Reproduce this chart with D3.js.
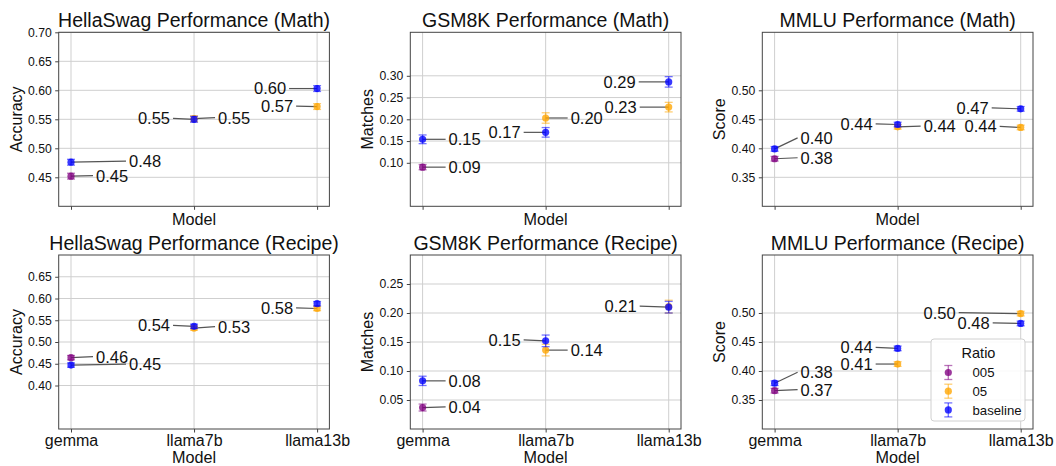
<!DOCTYPE html>
<html>
<head>
<meta charset="utf-8">
<script src="https://cdn.jsdelivr.net/npm/d3@7"></script>
<style>
	body { margin: 0; background: #fff; }
	svg { font-family: 'Liberation Sans', Arial, Helvetica, sans-serif; }
</style>
</head>
<body>
<svg id="chart" width="1056" height="466"></svg>
<script>
const models = ['gemma', 'llama7b', 'llama13b']
const ratios = ['005', '05', 'baseline']

// rows: [model, ratio, mean, err]
const hellaswagMath = [
	['gemma', '005', 0.452, 0.005], ['gemma', 'baseline', 0.476, 0.005],
	['llama7b', '05', 0.551, 0.005], ['llama7b', 'baseline', 0.550, 0.005],
	['llama13b', '05', 0.572, 0.005], ['llama13b', 'baseline', 0.603, 0.005]
]
const gsm8kMath = [
	['gemma', '005', 0.090, 0.006], ['gemma', 'baseline', 0.154, 0.010],
	['llama7b', '05', 0.203, 0.012], ['llama7b', 'baseline', 0.170, 0.011],
	['llama13b', '05', 0.228, 0.011], ['llama13b', 'baseline', 0.286, 0.012]
]
const mmluMath = [
	['gemma', '005', 0.382, 0.004], ['gemma', 'baseline', 0.399, 0.004],
	['llama7b', '05', 0.437, 0.004], ['llama7b', 'baseline', 0.441, 0.004],
	['llama13b', '05', 0.436, 0.004], ['llama13b', 'baseline', 0.468, 0.004]
]
const hellaswagRecipe = [
	['gemma', '005', 0.464, 0.005], ['gemma', 'baseline', 0.447, 0.005],
	['llama7b', '05', 0.532, 0.005], ['llama7b', 'baseline', 0.536, 0.005],
	['llama13b', '05', 0.577, 0.005], ['llama13b', 'baseline', 0.588, 0.005]
]
const gsm8kRecipe = [
	['gemma', '005', 0.037, 0.006], ['gemma', 'baseline', 0.083, 0.008],
	['llama7b', '05', 0.136, 0.010], ['llama7b', 'baseline', 0.152, 0.010],
	['llama13b', '05', 0.211, 0.011], ['llama13b', 'baseline', 0.210, 0.010]
]
const mmluRecipe = [
	['gemma', '005', 0.366, 0.004], ['gemma', 'baseline', 0.379, 0.004],
	['llama7b', '05', 0.412, 0.004], ['llama7b', 'baseline', 0.439, 0.004],
	['llama13b', '05', 0.499, 0.004], ['llama13b', 'baseline', 0.482, 0.004]
]

// y tick labels
const hellaswagMathTicks = [0.45, 0.50, 0.55, 0.60, 0.65, 0.70]
const gsm8kMathTicks = [0.10, 0.15, 0.20, 0.25, 0.30]
const mmluTicks = [0.35, 0.40, 0.45, 0.50]
const hellaswagRecipeTicks = [0.40, 0.45, 0.50, 0.55, 0.60, 0.65]
const gsm8kRecipeTicks = [0.05, 0.10, 0.15, 0.20, 0.25]

// annotation placement: [model, ratio, dx, dy] in px from the point
const hellaswagMathLabels = [
	['gemma', 'baseline', 58, -1], ['gemma', '005', 25, -0.5],
	['llama7b', 'baseline', -24, -1], ['llama7b', '05', 24, -1],
	['llama13b', 'baseline', -31, 0], ['llama13b', '05', -24, -0.5]
]
const gsm8kMathLabels = [
	['gemma', 'baseline', 26, 0], ['gemma', '005', 26, 0],
	['llama7b', 'baseline', -25, 0], ['llama7b', '05', 25, 0],
	['llama13b', 'baseline', -33, 0], ['llama13b', '05', -32, 0]
]
const mmluMathLabels = [
	['gemma', 'baseline', 26, -11], ['gemma', '005', 26, -1],
	['llama7b', 'baseline', -25, -0.7], ['llama7b', '05', 26, -0.7],
	['llama13b', 'baseline', -32, -1], ['llama13b', '05', -24, -1]
]
const hellaswagRecipeLabels = [
	['gemma', '005', 25, -1], ['gemma', 'baseline', 58, -1],
	['llama7b', 'baseline', -24, -1], ['llama7b', '05', 24, -1.5],
	['llama13b', '05', -24, -0.7]
]
const gsm8kRecipeLabels = [
	['gemma', 'baseline', 26, 0], ['gemma', '005', 26, -0.7],
	['llama7b', 'baseline', -25, -1], ['llama7b', '05', 25, 0],
	['llama13b', 'baseline', -32, -1]
]
const mmluRecipeLabels = [
	['gemma', 'baseline', 26, -11], ['gemma', '005', 26, -1],
	['llama7b', 'baseline', -25, -1], ['llama7b', '05', -25, 0],
	['llama13b', '05', -65, -1], ['llama13b', 'baseline', -31, -0.5]
]

const colors = {'005': '#800080', '05': '#FFA500', 'baseline': '#0000FF'}

const panels = [
	{title: 'HellaSwag Performance (Math)', ylab: 'Accuracy', rows: hellaswagMath, ylim: [0.40, 0.70], ticks: hellaswagMathTicks, labels: hellaswagMathLabels},
	{title: 'GSM8K Performance (Math)', ylab: 'Matches', rows: gsm8kMath, ylim: [0.0, 0.40], ticks: gsm8kMathTicks, labels: gsm8kMathLabels},
	{title: 'MMLU Performance (Math)', ylab: 'Score', rows: mmluMath, ylim: [0.30, 0.60], ticks: mmluTicks, labels: mmluMathLabels},
	{title: 'HellaSwag Performance (Recipe)', ylab: 'Accuracy', rows: hellaswagRecipe, ylim: [0.30, 0.70], ticks: hellaswagRecipeTicks, labels: hellaswagRecipeLabels},
	{title: 'GSM8K Performance (Recipe)', ylab: 'Matches', rows: gsm8kRecipe, ylim: [0.0, 0.30], ticks: gsm8kRecipeTicks, labels: gsm8kRecipeLabels},
	{title: 'MMLU Performance (Recipe)', ylab: 'Score', rows: mmluRecipe, ylim: [0.30, 0.60], ticks: mmluTicks, labels: mmluRecipeLabels}
]

const colLeft = [58.7, 410.3, 762.3],
	rowTop = [32.3, 255],
	w = 270.7,
	h = 174

const svg = d3.select('#chart')

panels.forEach((p, i) => {
	const row = Math.floor(i / 3), col = i % 3
	const g = svg.append('g')
		.attr('transform', `translate(${colLeft[col]},${rowTop[row]})`)

	const x = d3.scalePoint().domain(models).range([0, w]).padding(0.1)
	const y = d3.scaleLinear().domain(p.ylim).range([h, 0])

	// grid
	g.append('g').selectAll('line')
		.data(p.ticks).enter().append('line')
		.attr('x1', 0).attr('x2', w)
		.attr('y1', d => y(d)).attr('y2', d => y(d))
		.attr('stroke', '#cfcfcf').attr('stroke-width', 1)
	g.append('g').selectAll('line')
		.data(models).enter().append('line')
		.attr('x1', d => x(d)).attr('x2', d => x(d))
		.attr('y1', 0).attr('y2', h)
		.attr('stroke', '#cfcfcf').attr('stroke-width', 1)

	// axes
	const yAxis = g.append('g')
		.call(d3.axisLeft(y).tickValues(p.ticks).tickFormat(d3.format('.2f')).tickSize(3.5).tickPadding(3.5))
	yAxis.select('.domain').remove()
	yAxis.selectAll('.tick line').attr('stroke', '#444')
	yAxis.selectAll('text').attr('font-size', 12.2).attr('fill', '#111')
		.attr('font-family', "'Liberation Sans', Arial, sans-serif")

	const xAxis = g.append('g').attr('transform', `translate(0,${h})`)
		.call(d3.axisBottom(x).tickSize(3.5).tickPadding(2.5).tickFormat(d => row == 1 ? d : ''))
	xAxis.select('.domain').remove()
	xAxis.selectAll('.tick line').attr('stroke', '#444')
	xAxis.selectAll('text').attr('font-size', 16).attr('fill', '#111')
		.attr('font-family', "'Liberation Sans', Arial, sans-serif")

	g.append('rect')
		.attr('width', w).attr('height', h)
		.attr('fill', 'none').attr('stroke', '#444').attr('stroke-width', 1)

	// titles
	g.append('text')
		.attr('x', w / 2).attr('y', -5.5)
		.attr('text-anchor', 'middle')
		.attr('font-size', 19.5).attr('fill', '#111')
		.text(p.title)
	g.append('text')
		.attr('x', w / 2).attr('y', row == 0 ? 19 : 34.2)
		.attr('transform', `translate(0,${h})`)
		.attr('text-anchor', 'middle')
		.attr('font-size', 16.2).attr('fill', '#111')
		.text('Model')
	g.append('text')
		.attr('transform', `translate(-37,${h / 2}) rotate(-90)`)
		.attr('text-anchor', 'middle')
		.attr('font-size', 16).attr('fill', '#111')
		.text(p.ylab)

	const find = (m, r) => p.rows.find(d => d[0] == m && d[1] == r)

	// annotation lines + text
	p.labels.forEach(l => {
		const d = find(l[0], l[1])
		const px = x(d[0]), py = y(d[2])
		const tx = px + l[2], ty = py + l[3]
		const end = l[2] < 0
		g.append('line')
			.attr('x1', px).attr('y1', py)
			.attr('x2', end ? tx + 3 : tx - 3).attr('y2', ty)
			.attr('stroke', '#555').attr('stroke-width', 1.2)
		g.append('text')
			.attr('x', tx).attr('y', ty).attr('dy', '0.36em')
			.attr('text-anchor', end ? 'end' : 'start')
			.attr('font-size', 16.5).attr('fill', '#111')
			.text(d[2].toFixed(2))
	})

	// error bars + points, drawn in ratio order
	ratios.forEach(r => {
		p.rows.filter(d => d[1] == r).forEach(d => {
			const px = x(d[0])
			const eb = g.append('g').attr('stroke', colors[r]).attr('stroke-opacity', 0.55).attr('stroke-width', 1.3)
			eb.append('line').attr('x1', px).attr('x2', px)
				.attr('y1', y(d[2] - d[3])).attr('y2', y(d[2] + d[3]))
			eb.append('line').attr('x1', px - 4).attr('x2', px + 4)
				.attr('y1', y(d[2] - d[3])).attr('y2', y(d[2] - d[3]))
			eb.append('line').attr('x1', px - 4).attr('x2', px + 4)
				.attr('y1', y(d[2] + d[3])).attr('y2', y(d[2] + d[3]))
			g.append('circle')
				.attr('cx', px).attr('cy', y(d[2])).attr('r', 3.6)
				.attr('fill', colors[r]).attr('fill-opacity', 0.78)
		})
	})
})

// legend
const lg = svg.append('g').attr('transform', 'translate(931,339)')
lg.append('rect')
	.attr('width', 94).attr('height', 82).attr('rx', 3)
	.attr('fill', '#fff').attr('fill-opacity', 0.85)
	.attr('stroke', '#d0d0d0')
lg.append('text')
	.attr('x', 47.5).attr('y', 18.5).attr('text-anchor', 'middle')
	.attr('font-size', 14.5).attr('fill', '#111')
	.text('Ratio')
ratios.forEach((r, i) => {
	const cy = 33.5 + i * 18.7
	const e = lg.append('g').attr('stroke', colors[r]).attr('stroke-opacity', 0.55).attr('stroke-width', 1.3)
	e.append('line').attr('x1', 17.3).attr('x2', 17.3).attr('y1', cy - 7).attr('y2', cy + 7)
	e.append('line').attr('x1', 13.3).attr('x2', 21.3).attr('y1', cy - 7).attr('y2', cy - 7)
	e.append('line').attr('x1', 13.3).attr('x2', 21.3).attr('y1', cy + 7).attr('y2', cy + 7)
	lg.append('circle').attr('cx', 17.3).attr('cy', cy).attr('r', 3.6)
		.attr('fill', colors[r]).attr('fill-opacity', 0.78)
	lg.append('text')
		.attr('x', 41.5).attr('y', cy).attr('dy', '0.36em')
		.attr('font-size', 13.2).attr('fill', '#111')
		.text(r)
})
</script>
</body>
</html>
